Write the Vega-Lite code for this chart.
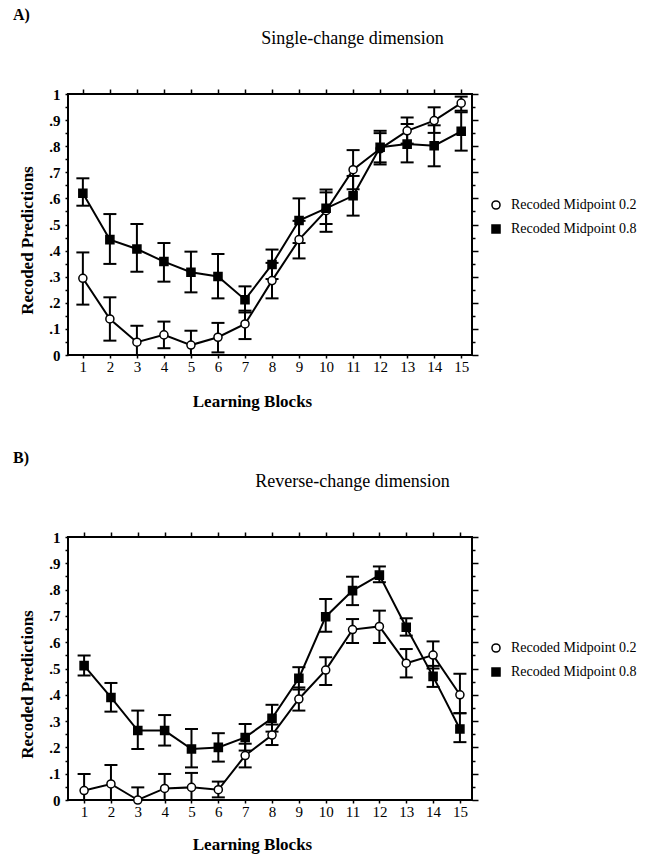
{
  "$schema": "https://vega.github.io/schema/vega-lite/v6.json",
  "padding": {"left": 12, "top": 6, "right": 5, "bottom": 3},
  "config": {
    "font": "Liberation Serif",
    "view": {"stroke": "black", "strokeWidth": 2},
    "axis": {"domain": false, "grid": false, "tickColor": "black", "labelColor": "black", "titleColor": "black", "tickWidth": 1.5},
    "legend": {"orient": "none", "legendX": 421, "legendY": 104, "title": null, "labelFontSize": 14, "labelColor": "black", "symbolSize": 65, "symbolStrokeWidth": 1.5, "rowPadding": 8, "labelOffset": 8},
    "title": {"color": "black"}
  },
  "datasets": {
    "A": [
      {"block": 1, "series": "Recoded Midpoint 0.2", "mean": 0.294, "lo": 0.193, "hi": 0.393},
      {"block": 2, "series": "Recoded Midpoint 0.2", "mean": 0.138, "lo": 0.055, "hi": 0.221},
      {"block": 3, "series": "Recoded Midpoint 0.2", "mean": 0.049, "lo": 0.0, "hi": 0.112},
      {"block": 4, "series": "Recoded Midpoint 0.2", "mean": 0.077, "lo": 0.026, "hi": 0.128},
      {"block": 5, "series": "Recoded Midpoint 0.2", "mean": 0.038, "lo": 0.0, "hi": 0.093},
      {"block": 6, "series": "Recoded Midpoint 0.2", "mean": 0.068, "lo": 0.01, "hi": 0.123},
      {"block": 7, "series": "Recoded Midpoint 0.2", "mean": 0.119, "lo": 0.061, "hi": 0.17},
      {"block": 8, "series": "Recoded Midpoint 0.2", "mean": 0.285, "lo": 0.217, "hi": 0.353},
      {"block": 9, "series": "Recoded Midpoint 0.2", "mean": 0.442, "lo": 0.37, "hi": 0.514},
      {"block": 10, "series": "Recoded Midpoint 0.2", "mean": 0.553, "lo": 0.472, "hi": 0.634},
      {"block": 11, "series": "Recoded Midpoint 0.2", "mean": 0.71, "lo": 0.635, "hi": 0.785},
      {"block": 12, "series": "Recoded Midpoint 0.2", "mean": 0.79, "lo": 0.73, "hi": 0.85},
      {"block": 13, "series": "Recoded Midpoint 0.2", "mean": 0.859, "lo": 0.81, "hi": 0.91},
      {"block": 14, "series": "Recoded Midpoint 0.2", "mean": 0.898, "lo": 0.851, "hi": 0.949},
      {"block": 15, "series": "Recoded Midpoint 0.2", "mean": 0.965, "lo": 0.936, "hi": 0.99},
      {"block": 1, "series": "Recoded Midpoint 0.8", "mean": 0.62, "lo": 0.572, "hi": 0.677},
      {"block": 2, "series": "Recoded Midpoint 0.8", "mean": 0.442, "lo": 0.349, "hi": 0.54},
      {"block": 3, "series": "Recoded Midpoint 0.8", "mean": 0.406, "lo": 0.319, "hi": 0.502},
      {"block": 4, "series": "Recoded Midpoint 0.8", "mean": 0.358, "lo": 0.281, "hi": 0.429},
      {"block": 5, "series": "Recoded Midpoint 0.8", "mean": 0.317, "lo": 0.24, "hi": 0.396},
      {"block": 6, "series": "Recoded Midpoint 0.8", "mean": 0.301, "lo": 0.217, "hi": 0.387},
      {"block": 7, "series": "Recoded Midpoint 0.8", "mean": 0.212, "lo": 0.163, "hi": 0.263},
      {"block": 8, "series": "Recoded Midpoint 0.8", "mean": 0.347, "lo": 0.291, "hi": 0.404},
      {"block": 9, "series": "Recoded Midpoint 0.8", "mean": 0.515, "lo": 0.429, "hi": 0.6},
      {"block": 10, "series": "Recoded Midpoint 0.8", "mean": 0.562, "lo": 0.502, "hi": 0.623},
      {"block": 11, "series": "Recoded Midpoint 0.8", "mean": 0.61, "lo": 0.534, "hi": 0.686},
      {"block": 12, "series": "Recoded Midpoint 0.8", "mean": 0.796, "lo": 0.738, "hi": 0.859},
      {"block": 13, "series": "Recoded Midpoint 0.8", "mean": 0.808, "lo": 0.738, "hi": 0.885},
      {"block": 14, "series": "Recoded Midpoint 0.8", "mean": 0.802, "lo": 0.723, "hi": 0.88},
      {"block": 15, "series": "Recoded Midpoint 0.8", "mean": 0.857, "lo": 0.783, "hi": 0.93}
    ],
    "B": [
      {"block": 1, "series": "Recoded Midpoint 0.2", "mean": 0.036, "lo": 0.0, "hi": 0.099},
      {"block": 2, "series": "Recoded Midpoint 0.2", "mean": 0.061, "lo": 0.0, "hi": 0.133},
      {"block": 3, "series": "Recoded Midpoint 0.2", "mean": 0.0, "lo": 0.0, "hi": 0.048},
      {"block": 4, "series": "Recoded Midpoint 0.2", "mean": 0.044, "lo": 0.0, "hi": 0.099},
      {"block": 5, "series": "Recoded Midpoint 0.2", "mean": 0.048, "lo": 0.0, "hi": 0.103},
      {"block": 6, "series": "Recoded Midpoint 0.2", "mean": 0.039, "lo": 0.01, "hi": 0.07},
      {"block": 7, "series": "Recoded Midpoint 0.2", "mean": 0.169, "lo": 0.124, "hi": 0.214},
      {"block": 8, "series": "Recoded Midpoint 0.2", "mean": 0.247, "lo": 0.209, "hi": 0.287},
      {"block": 9, "series": "Recoded Midpoint 0.2", "mean": 0.384, "lo": 0.34, "hi": 0.428},
      {"block": 10, "series": "Recoded Midpoint 0.2", "mean": 0.494, "lo": 0.437, "hi": 0.543},
      {"block": 11, "series": "Recoded Midpoint 0.2", "mean": 0.648, "lo": 0.597, "hi": 0.688},
      {"block": 12, "series": "Recoded Midpoint 0.2", "mean": 0.66, "lo": 0.597, "hi": 0.72},
      {"block": 13, "series": "Recoded Midpoint 0.2", "mean": 0.52, "lo": 0.466, "hi": 0.574},
      {"block": 14, "series": "Recoded Midpoint 0.2", "mean": 0.551, "lo": 0.5, "hi": 0.603},
      {"block": 15, "series": "Recoded Midpoint 0.2", "mean": 0.4, "lo": 0.33, "hi": 0.48},
      {"block": 1, "series": "Recoded Midpoint 0.8", "mean": 0.511, "lo": 0.473, "hi": 0.549},
      {"block": 2, "series": "Recoded Midpoint 0.8", "mean": 0.39, "lo": 0.336, "hi": 0.445},
      {"block": 3, "series": "Recoded Midpoint 0.8", "mean": 0.264, "lo": 0.194, "hi": 0.34},
      {"block": 4, "series": "Recoded Midpoint 0.8", "mean": 0.264, "lo": 0.207, "hi": 0.323},
      {"block": 5, "series": "Recoded Midpoint 0.8", "mean": 0.194, "lo": 0.124, "hi": 0.27},
      {"block": 6, "series": "Recoded Midpoint 0.8", "mean": 0.2, "lo": 0.146, "hi": 0.254},
      {"block": 7, "series": "Recoded Midpoint 0.8", "mean": 0.238, "lo": 0.188, "hi": 0.289},
      {"block": 8, "series": "Recoded Midpoint 0.8", "mean": 0.311, "lo": 0.26, "hi": 0.362},
      {"block": 9, "series": "Recoded Midpoint 0.8", "mean": 0.463, "lo": 0.42, "hi": 0.505},
      {"block": 10, "series": "Recoded Midpoint 0.8", "mean": 0.697, "lo": 0.64, "hi": 0.764},
      {"block": 11, "series": "Recoded Midpoint 0.8", "mean": 0.796, "lo": 0.741, "hi": 0.849},
      {"block": 12, "series": "Recoded Midpoint 0.8", "mean": 0.855, "lo": 0.828, "hi": 0.888},
      {"block": 13, "series": "Recoded Midpoint 0.8", "mean": 0.657, "lo": 0.625, "hi": 0.691},
      {"block": 14, "series": "Recoded Midpoint 0.8", "mean": 0.47, "lo": 0.43, "hi": 0.51},
      {"block": 15, "series": "Recoded Midpoint 0.8", "mean": 0.27, "lo": 0.22, "hi": 0.33}
    ]
  },
  "spacing": 39,
  "resolve": {"scale": {"shape": "independent", "fill": "independent", "stroke": "independent"}, "legend": {"shape": "independent", "fill": "independent", "stroke": "independent"}},
  "vconcat": [
    {
      "width": 404,
      "height": 261,
      "title": {"text": "A)", "anchor": "start", "frame": "group", "dx": -55, "fontSize": 16, "fontWeight": "bold", "offset": 6},
      "data": {"name": "A"},
      "resolve": {"axis": {"x": "independent", "y": "independent"}},
      "layer": [
        {
          "mark": {"type": "line", "color": "black", "strokeWidth": 2},
          "encoding": {
            "x": {"field": "block", "type": "quantitative", "scale": {"domain": [0.45, 15.4], "nice": false, "zero": false},
              "axis": {"orient": "bottom", "values": [1,2,3,4,5,6,7,8,9,10,11,12,13,14,15], "format": "d", "labelFontSize": 15, "tickSize": 3, "labelPadding": 1,
                "title": "Learning Blocks", "titleFontSize": 17, "titleFontWeight": "bold", "titleX": 184, "titleY": 51, "titleBaseline": "alphabetic"}},
            "y": {"field": "mean", "type": "quantitative", "scale": {"domain": [0, 1], "nice": false},
              "axis": {"orient": "left", "values": [0,0.05,0.1,0.15,0.2,0.25,0.3,0.35,0.4,0.45,0.5,0.55,0.6,0.65,0.7,0.75,0.8,0.85,0.9,0.95,1],
                "labelExpr": "round(datum.value*20)%2==0 ? (datum.value==0 ? '0' : datum.value==1 ? '1' : replace(format(datum.value,'.1f'),'0.','.')) : ''",
                "labelFontSize": 15, "labelFontWeight": "bold", "tickSize": 3, "labelPadding": 5,
                "title": "Recoded Predictions", "titleFontSize": 17, "titleFontWeight": "bold", "titleX": -41, "titleY": 146, "titleAngle": -90, "titleAlign": "center", "titleBaseline": "middle"}},
            "detail": {"field": "series"}
          }
        },
        {
          "mark": {"type": "rule", "color": "black", "strokeWidth": 2},
          "encoding": {
            "x": {"field": "block", "type": "quantitative",
              "axis": {"orient": "top", "values": [1,2,3,4,5,6,7,8,9,10,11,12,13,14,15], "labels": false, "tickSize": 5,
                "title": "Single-change dimension", "titleFontSize": 18, "titleFontWeight": "normal", "titleX": 284, "titleY": -51, "titleBaseline": "alphabetic", "titleAlign": "center"}},
            "y": {"field": "lo", "type": "quantitative",
              "axis": {"orient": "right", "values": [0,0.05,0.1,0.15,0.2,0.25,0.3,0.35,0.4,0.45,0.5,0.55,0.6,0.65,0.7,0.75,0.8,0.85,0.9,0.95,1], "labels": false, "title": null,
                "tickSize": {"condition": {"test": "round(datum.value*20)%2==0", "value": 6}, "value": 3}}},
            "y2": {"field": "hi"}
          }
        },
        {
          "mark": {"type": "tick", "orient": "horizontal", "size": 13, "thickness": 2, "color": "black", "opacity": 1},
          "encoding": {
            "x": {"field": "block", "type": "quantitative", "axis": null},
            "y": {"field": "lo", "type": "quantitative", "axis": null}
          }
        },
        {
          "mark": {"type": "tick", "orient": "horizontal", "size": 13, "thickness": 2, "color": "black", "opacity": 1},
          "encoding": {
            "x": {"field": "block", "type": "quantitative", "axis": null},
            "y": {"field": "hi", "type": "quantitative", "axis": null}
          }
        },
        {
          "mark": {"type": "point", "filled": true, "strokeWidth": 1.5, "opacity": 1, "size": 65},
          "encoding": {
            "x": {"field": "block", "type": "quantitative", "axis": null},
            "y": {"field": "mean", "type": "quantitative", "axis": null},
            "shape": {"field": "series", "type": "nominal", "title": null, "scale": {"domain": ["Recoded Midpoint 0.2", "Recoded Midpoint 0.8"], "range": ["circle", "square"]}},
            "fill": {"field": "series", "type": "nominal", "title": null, "scale": {"domain": ["Recoded Midpoint 0.2", "Recoded Midpoint 0.8"], "range": ["white", "black"]}},
            "stroke": {"field": "series", "type": "nominal", "title": null, "scale": {"domain": ["Recoded Midpoint 0.2", "Recoded Midpoint 0.8"], "range": ["black", "black"]}}
          }
        }
      ]
    },
    {
      "width": 404,
      "height": 263,
      "title": {"text": "B)", "anchor": "start", "frame": "group", "dx": -55, "fontSize": 16, "fontWeight": "bold", "offset": 6},
      "data": {"name": "B"},
      "resolve": {"axis": {"x": "independent", "y": "independent"}},
      "layer": [
        {
          "mark": {"type": "line", "color": "black", "strokeWidth": 2},
          "encoding": {
            "x": {"field": "block", "type": "quantitative", "scale": {"domain": [0.4, 15.45], "nice": false, "zero": false},
              "axis": {"orient": "bottom", "values": [1,2,3,4,5,6,7,8,9,10,11,12,13,14,15], "format": "d", "labelFontSize": 15, "tickSize": 3, "labelPadding": 1,
                "title": "Learning Blocks", "titleFontSize": 17, "titleFontWeight": "bold", "titleX": 184, "titleY": 49, "titleBaseline": "alphabetic"}},
            "y": {"field": "mean", "type": "quantitative", "scale": {"domain": [0, 1], "nice": false},
              "axis": {"orient": "left", "values": [0,0.05,0.1,0.15,0.2,0.25,0.3,0.35,0.4,0.45,0.5,0.55,0.6,0.65,0.7,0.75,0.8,0.85,0.9,0.95,1],
                "labelExpr": "round(datum.value*20)%2==0 ? (datum.value==0 ? '0' : datum.value==1 ? '1' : replace(format(datum.value,'.1f'),'0.','.')) : ''",
                "labelFontSize": 15, "labelFontWeight": "bold", "tickSize": 3, "labelPadding": 5,
                "title": "Recoded Predictions", "titleFontSize": 17, "titleFontWeight": "bold", "titleX": -41, "titleY": 147, "titleAngle": -90, "titleAlign": "center", "titleBaseline": "middle"}},
            "detail": {"field": "series"}
          }
        },
        {
          "mark": {"type": "rule", "color": "black", "strokeWidth": 2},
          "encoding": {
            "x": {"field": "block", "type": "quantitative",
              "axis": {"orient": "top", "values": [1,2,3,4,5,6,7,8,9,10,11,12,13,14,15], "labels": false, "tickSize": 5,
                "title": "Reverse-change dimension", "titleFontSize": 18, "titleFontWeight": "normal", "titleX": 284, "titleY": -51, "titleBaseline": "alphabetic", "titleAlign": "center"}},
            "y": {"field": "lo", "type": "quantitative",
              "axis": {"orient": "right", "values": [0,0.05,0.1,0.15,0.2,0.25,0.3,0.35,0.4,0.45,0.5,0.55,0.6,0.65,0.7,0.75,0.8,0.85,0.9,0.95,1], "labels": false, "title": null,
                "tickSize": {"condition": {"test": "round(datum.value*20)%2==0", "value": 6}, "value": 3}}},
            "y2": {"field": "hi"}
          }
        },
        {
          "mark": {"type": "tick", "orient": "horizontal", "size": 13, "thickness": 2, "color": "black", "opacity": 1},
          "encoding": {
            "x": {"field": "block", "type": "quantitative", "axis": null},
            "y": {"field": "lo", "type": "quantitative", "axis": null}
          }
        },
        {
          "mark": {"type": "tick", "orient": "horizontal", "size": 13, "thickness": 2, "color": "black", "opacity": 1},
          "encoding": {
            "x": {"field": "block", "type": "quantitative", "axis": null},
            "y": {"field": "hi", "type": "quantitative", "axis": null}
          }
        },
        {
          "mark": {"type": "point", "filled": true, "strokeWidth": 1.5, "opacity": 1, "size": 65},
          "encoding": {
            "x": {"field": "block", "type": "quantitative", "axis": null},
            "y": {"field": "mean", "type": "quantitative", "axis": null},
            "shape": {"field": "series", "type": "nominal", "title": null, "scale": {"domain": ["Recoded Midpoint 0.2", "Recoded Midpoint 0.8"], "range": ["circle", "square"]}},
            "fill": {"field": "series", "type": "nominal", "title": null, "scale": {"domain": ["Recoded Midpoint 0.2", "Recoded Midpoint 0.8"], "range": ["white", "black"]}},
            "stroke": {"field": "series", "type": "nominal", "title": null, "scale": {"domain": ["Recoded Midpoint 0.2", "Recoded Midpoint 0.8"], "range": ["black", "black"]}}
          }
        }
      ]
    }
  ]
}
